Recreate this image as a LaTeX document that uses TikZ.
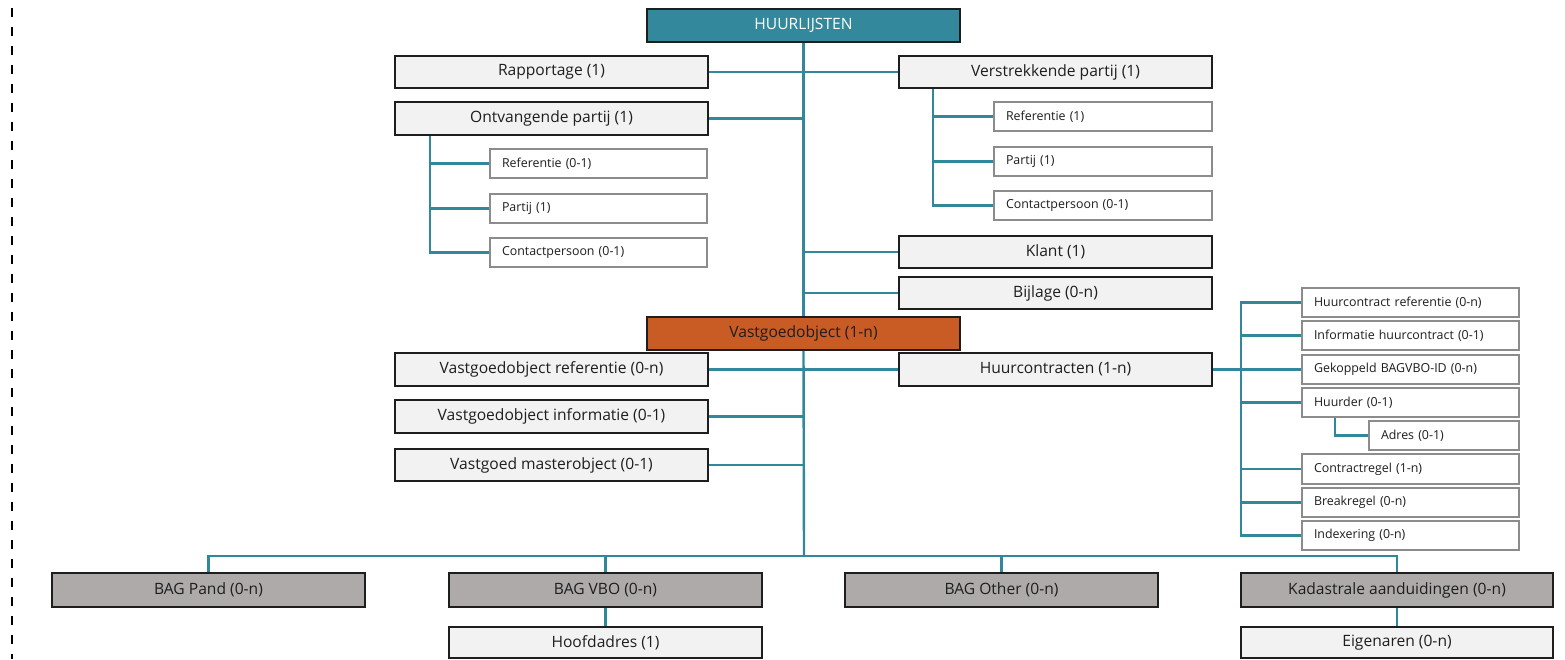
\documentclass[tikz,border=0pt]{standalone}
\usepackage{fontspec}
\setmainfont{Open Sans}
\definecolor{linkteal}{HTML}{31889A}
\definecolor{headteal}{HTML}{33899B}
\definecolor{objorange}{HTML}{C95B24}
\definecolor{palegray}{HTML}{F2F2F2}
\definecolor{midgray}{HTML}{AEAAAA}
\definecolor{edgegray}{HTML}{8C8C8C}
\definecolor{inkdark}{HTML}{1E1E1E}

\tikzset{
  bigfont/.style={font=\fontsize{15.6}{18}\selectfont},
  smallfont/.style={font=\fontsize{12.4}{14}\selectfont},
  basebox/.style={inner sep=0pt, line width=1.6pt, text=inkdark, bigfont},
  headbox/.style={basebox, draw=inkdark, fill=headteal, text=white},
  objbox/.style={basebox, draw=inkdark, fill=objorange},
  itembox/.style={basebox, draw=inkdark, fill=palegray},
  bagbox/.style={basebox, draw=inkdark, fill=midgray},
  leafbox/.style={basebox, line width=1.5pt, draw=edgegray, fill=white, smallfont, align=left},
  link/.style={draw=linkteal, line width=2.4pt},
  dashline/.style={draw=black, line width=2.8pt, dash pattern=on 9pt off 10pt}
}

% centred box from its corners: name, x1, y1, x2, y2, style, text
\newcommand\centrebox[7]{%
  \node[#6, minimum width={(#4-#2)*1pt}, minimum height={(#5-#3)*1pt}]
    (#1) at ({(#2+#4)/2},{(#3+#5)/2}) {#7};}
% left-aligned leaf box from its corners
\newcommand\leafbox[6]{%
  \node[leafbox, text width={(#4-#2-24)*1pt}, inner xsep=12pt, minimum height={(#5-#3)*1pt}]
    (#1) at ({(#2+#4)/2},{(#3+#5)/2}) {#6};}

\begin{document}
\begin{tikzpicture}[x=1pt, y=-1pt]
\useasboundingbox (0,0) rectangle (1565,659);

% left margin rule
\draw[dashline] (12,8) -- (12,659);

% root and object
\centrebox{huur}{647}{9}{960}{42}{headbox}{HUURLIJSTEN}
\centrebox{vgo}{647}{317}{960}{350}{objbox}{Vastgoedobject (1-n)}

% first level under HUURLIJSTEN
\centrebox{rap}{395}{56}{708}{88}{itembox}{Rapportage (1)}
\centrebox{ont}{395}{102}{708}{135}{itembox}{Ontvangende partij (1)}
\centrebox{ver}{899}{56}{1212}{88}{itembox}{Verstrekkende partij (1)}
\centrebox{kla}{899}{236}{1212}{268}{itembox}{Klant (1)}
\centrebox{bij}{899}{277}{1212}{309}{itembox}{Bijlage (0-n)}

% parties
\leafbox{oref}{490}{149}{707}{178}{Referentie (0-1)}
\leafbox{opar}{490}{194}{707}{223}{Partij (1)}
\leafbox{ocon}{490}{238}{707}{267}{Contactpersoon (0-1)}
\leafbox{vref1}{994}{102}{1212}{131}{Referentie (1)}
\leafbox{vpar}{994}{147}{1212}{176}{Partij (1)}
\leafbox{vcon}{994}{191}{1212}{220}{Contactpersoon (0-1)}

% object children
\centrebox{vref}{395}{353}{708}{386}{itembox}{Vastgoedobject referentie (0-n)}
\centrebox{vinf}{395}{400}{708}{433}{itembox}{Vastgoedobject informatie (0-1)}
\centrebox{vmas}{395}{449}{708}{481}{itembox}{Vastgoed masterobject (0-1)}
\centrebox{hcon}{899}{353}{1212}{386}{itembox}{Huurcontracten (1-n)}

% contract details
\leafbox{hc1}{1302}{288}{1519}{317}{Huurcontract referentie (0-n)}
\leafbox{hc2}{1302}{321}{1519}{350}{Informatie huurcontract (0-1)}
\leafbox{hc3}{1302}{355}{1519}{384}{Gekoppeld BAGVBO-ID (0-n)}
\leafbox{hc4}{1302}{388}{1519}{417}{Huurder (0-1)}
\leafbox{adr}{1369}{421}{1519}{450}{Adres (0-1)}
\leafbox{hc5}{1302}{454}{1519}{484}{Contractregel (1-n)}
\leafbox{hc6}{1302}{488}{1519}{517}{Breakregel (0-n)}
\leafbox{hc7}{1302}{521}{1519}{550}{Indexering (0-n)}

% BAG row
\centrebox{pand}{52}{573}{365}{607}{bagbox}{BAG Pand (0-n)}
\centrebox{vbo}{449}{573}{762}{607}{bagbox}{BAG VBO (0-n)}
\centrebox{oth}{845}{573}{1158}{607}{bagbox}{BAG Other (0-n)}
\centrebox{kad}{1241}{573}{1553}{607}{bagbox}{Kadastrale aanduidingen (0-n)}
\centrebox{hfd}{449}{627}{762}{658}{itembox}{Hoofdadres (1)}
\centrebox{eig}{1241}{627}{1553}{658}{itembox}{Eigenaren (0-n)}

% branch points
\coordinate (bus) at (804,556);
\coordinate (lbx) at (430,0);
\coordinate (rbx) at (933,0);
\coordinate (cbx) at (1241,0);

% main trunk
\draw[link] (huur.south) -- (vgo.north);
\draw[link] (vgo.south) -- (bus);
\draw[link] (rap.east) -- (ver.west);
\draw[link] (ont.east) -- (ont.east -| huur.south);
\draw[link] (kla.west) -- (kla.west -| huur.south);
\draw[link] (bij.west) -- (bij.west -| huur.south);

% receiving party
\draw[link] (ont.south -| lbx) |- (ocon.west);
\draw[link] (lbx |- oref.west) -- (oref.west);
\draw[link] (lbx |- opar.west) -- (opar.west);

% supplying party
\draw[link] (ver.south -| rbx) |- (vcon.west);
\draw[link] (rbx |- vref1.west) -- (vref1.west);
\draw[link] (rbx |- vpar.west) -- (vpar.west);

% object children
\draw[link] (vref.east) -- (hcon.west);
\draw[link] (vinf.east) -- (vinf.east -| vgo.south);
\draw[link] (vmas.east) -- (vmas.east -| vgo.south);

% contracts
\draw[link] (hc1.west) -| (cbx |- hc7.west) -- (hc7.west);
\draw[link] (hcon.east) -- (hc3.west);
\draw[link] (cbx |- hc2.west) -- (hc2.west);
\draw[link] (cbx |- hc4.west) -- (hc4.west);
\draw[link] (cbx |- hc5.west) -- (hc5.west);
\draw[link] (cbx |- hc6.west) -- (hc6.west);
\draw[link] ([xshift=34pt]hc4.south west) |- (adr.west);

% BAG row
\draw[link] (pand.north) |- (bus) -| (kad.north);
\draw[link] (vbo.north) -- (vbo.north |- bus);
\draw[link] (oth.north) -- (oth.north |- bus);
\draw[link] (vbo.south) -- (hfd.north);
\draw[link] (kad.south) -- (eig.north);
\end{tikzpicture}
\end{document}
